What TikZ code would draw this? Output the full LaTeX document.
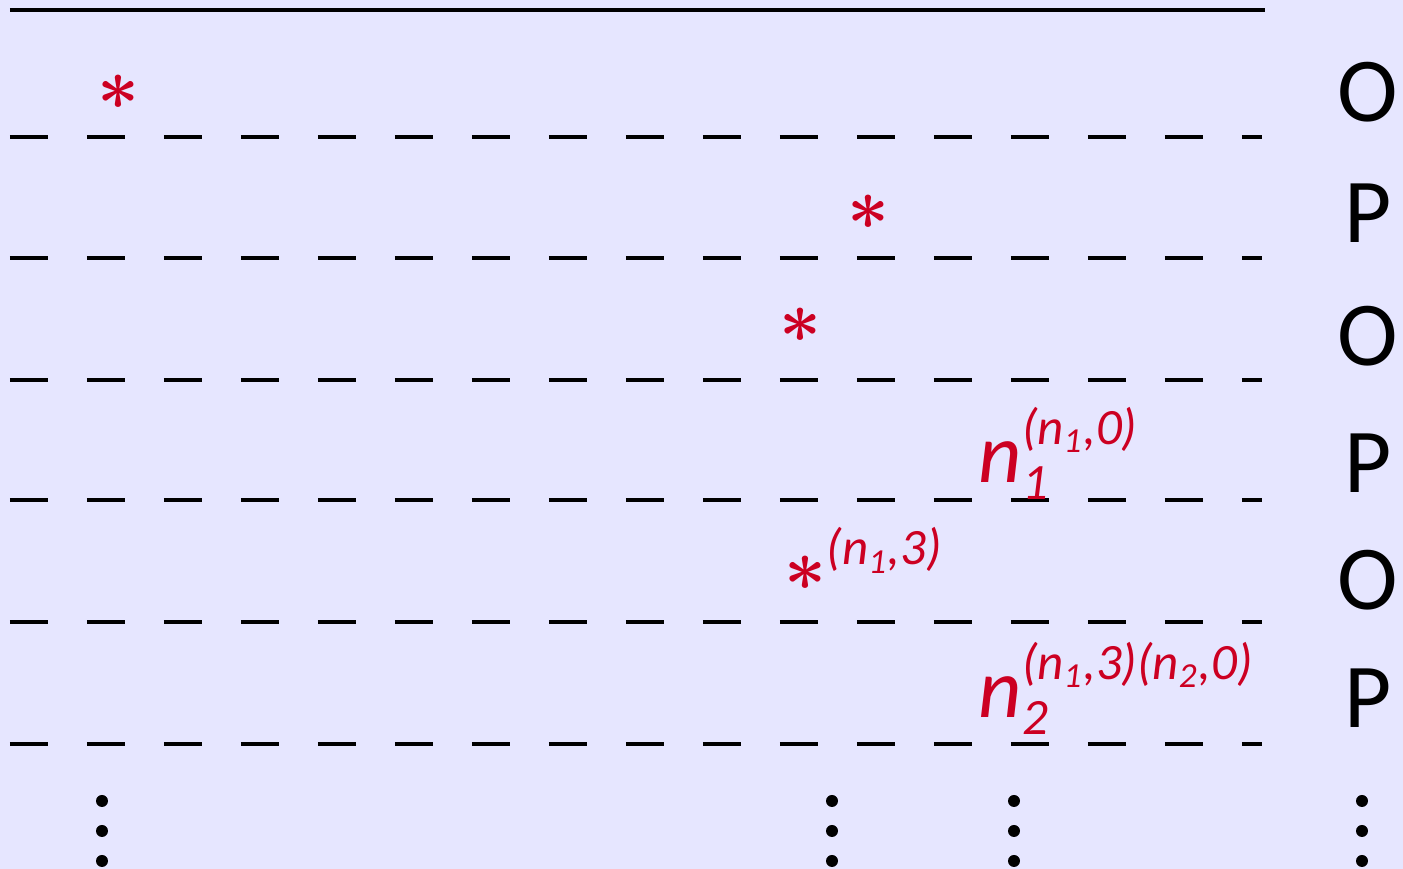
\documentclass[tikz,border=0pt]{standalone}
\usepackage{amsmath}
\usepackage{fontspec}
\setmainfont{Carlito}
\usetikzlibrary{positioning}
\definecolor{lavbg}{RGB}{230,230,255}
\definecolor{hitred}{RGB}{204,0,34}
\DeclareMathSizes{24}{24}{14.5}{10}
\DeclareMathSizes{20}{20}{14.5}{10}
\tikzset{
  rowline/.style={line width=0.9pt,dash pattern=on 3.8mm off 3.9mm},
  hit/.style={text=hitred,inner sep=0pt,font=\fontsize{20}{24}\selectfont\boldmath},
  tag/.style={text=hitred,inner sep=0pt,anchor=base west,font=\fontsize{24}{28}\selectfont},
  oplabel/.style={inner sep=0pt,anchor=base,font=\fontsize{26}{30}\selectfont},
}

\begin{document}
\begin{tikzpicture}[x=0.1mm,y=-0.1mm]
\fill[lavbg] (0,0) rectangle (1403,869);
\useasboundingbox (0,0) rectangle (1403,869);
\draw[line width=0.9pt] (10,10) -- (1265,10);
\foreach \y in {137,258,380,500,622,744}
  \draw[rowline] (10,\y) -- (1262,\y);
% O/P column
\foreach \lab/\y [count=\i] in {O/122,P/243,O/366,P/493,O/610,P/728}
  \node[oplabel] (op\i) at (1368,\y) {\lab};
% marks on the rows
\node[hit,anchor=base] (star1) at (118,110) {$\ast$};
\node[hit,anchor=base] (star2) at (868,230) {$\ast$};
\node[hit,anchor=base] (star3) at (800,343) {$\ast$};
\node[hit,anchor=base west] (star5) at (784,591) {$\ast^{\textit{(n}_{\textit{1}}\textit{,3)}}$};
\node[tag] (lab1) at (978,483) {$\textit{n}_{\textit{1}}^{\textit{(n}_{\textit{1}}\textit{,0)}}$};
\node[tag] (lab2) at (978,718) {$\textit{n}_{\textit{2}}^{\textit{(n}_{\textit{1}}\textit{,3)(n}_{\textit{2}}\textit{,0)}}$};
% dots
\foreach \x in {102,832,1014,1362}
  \foreach \y in {801,831,861}
    \fill (\x,\y) circle (0.6mm);
\end{tikzpicture}
\end{document}
